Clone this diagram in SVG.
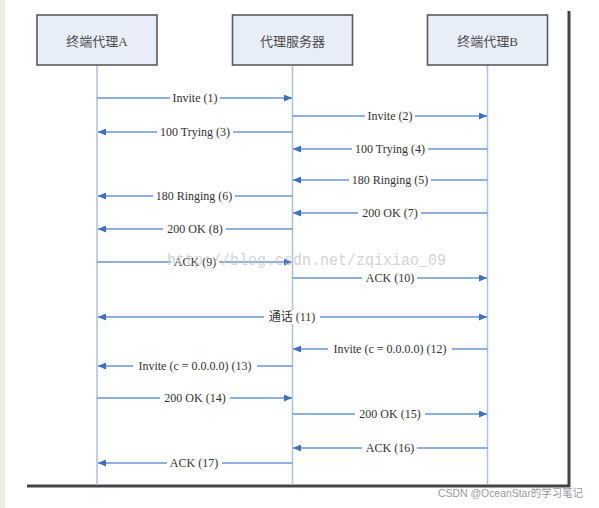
<svg xmlns="http://www.w3.org/2000/svg" width="599" height="508" viewBox="0 0 599 508">
<style>
.box{fill:#e8eef8;stroke:#5a5a5a;stroke-width:1.6}
.bt{font-family:"Liberation Serif","Noto Sans CJK SC",serif;font-size:13px;fill:#4a4a4a;text-anchor:middle}
.life{stroke:#a9c2ea;stroke-width:1.5}
.msg{stroke:#6b96da;stroke-width:1.3;fill:none}
.lb{fill:#ffffff}
.lt{font-family:"Liberation Serif","Noto Sans CJK SC",serif;font-size:12px;fill:#333;text-anchor:middle}
</style>
<defs>
<marker id="ah" viewBox="0 0 8 7" refX="8" refY="3.5" markerWidth="8" markerHeight="7" markerUnits="userSpaceOnUse" orient="auto-start-reverse">
<path d="M0,0 L8,3.5 L0,7 z" fill="#3d6fc6"/>
</marker>
</defs>
<rect x="0" y="0" width="599" height="508" fill="#ffffff"/>
<rect x="0" y="0" width="5" height="508" fill="#edf0dc"/>
<g id="frame">
<line x1="569" y1="11" x2="569" y2="487" stroke="#444" stroke-width="3"/>
<line x1="27" y1="486" x2="570" y2="486" stroke="#444" stroke-width="3"/>
</g>
<g id="lifelines">
<line class="life" x1="97" y1="65" x2="97" y2="485"/>
<line class="life" x1="292.5" y1="65" x2="292.5" y2="485"/>
<line class="life" x1="487.5" y1="65" x2="487.5" y2="485"/>
</g>
<g id="nodeA"><rect class="box" x="37" y="15" width="120" height="50"/><text class="bt" x="97" y="46">终端代理A</text></g>
<g id="nodeS"><rect class="box" x="232.5" y="15" width="120" height="50"/><text class="bt" x="292.5" y="46">代理服务器</text></g>
<g id="nodeB"><rect class="box" x="427.5" y="15" width="120" height="50"/><text class="bt" x="487.5" y="46">终端代理B</text></g>
<g id="connectors">
<line class="msg" x1="97" y1="98" x2="292" y2="98" marker-end="url(#ah)"/>
<line class="msg" x1="292.5" y1="116" x2="487" y2="116" marker-end="url(#ah)"/>
<line class="msg" x1="292.5" y1="132" x2="98" y2="132" marker-end="url(#ah)"/>
<line class="msg" x1="487.5" y1="149" x2="293" y2="149" marker-end="url(#ah)"/>
<line class="msg" x1="487.5" y1="180" x2="293" y2="180" marker-end="url(#ah)"/>
<line class="msg" x1="292.5" y1="196" x2="98" y2="196" marker-end="url(#ah)"/>
<line class="msg" x1="487.5" y1="213" x2="293" y2="213" marker-end="url(#ah)"/>
<line class="msg" x1="292.5" y1="229" x2="98" y2="229" marker-end="url(#ah)"/>
<line class="msg" x1="97" y1="262" x2="292" y2="262" marker-end="url(#ah)"/>
<line class="msg" x1="292.5" y1="278" x2="487" y2="278" marker-end="url(#ah)"/>
<line class="msg" x1="98" y1="317" x2="487" y2="317" marker-start="url(#ah)" marker-end="url(#ah)"/>
<line class="msg" x1="487.5" y1="349" x2="293" y2="349" marker-end="url(#ah)"/>
<line class="msg" x1="292.5" y1="366" x2="98" y2="366" marker-end="url(#ah)"/>
<line class="msg" x1="97" y1="398" x2="292" y2="398" marker-end="url(#ah)"/>
<line class="msg" x1="292.5" y1="414" x2="487" y2="414" marker-end="url(#ah)"/>
<line class="msg" x1="487.5" y1="448" x2="293" y2="448" marker-end="url(#ah)"/>
<line class="msg" x1="292.5" y1="463" x2="98" y2="463" marker-end="url(#ah)"/>
</g>
<g id="labels">
<rect class="lb" x="170" y="91" width="50" height="14"/><text class="lt" x="195" y="102">Invite (1)</text>
<rect class="lb" x="365" y="109" width="50" height="14"/><text class="lt" x="390" y="120">Invite (2)</text>
<rect class="lb" x="157" y="125" width="76" height="14"/><text class="lt" x="195" y="136">100 Trying (3)</text>
<rect class="lb" x="352" y="142" width="76" height="14"/><text class="lt" x="390" y="153">100 Trying (4)</text>
<rect class="lb" x="349" y="173" width="82" height="14"/><text class="lt" x="390" y="184">180 Ringing (5)</text>
<rect class="lb" x="153" y="189" width="82" height="14"/><text class="lt" x="194" y="200">180 Ringing (6)</text>
<rect class="lb" x="358" y="206" width="63" height="14"/><text class="lt" x="390" y="217">200 OK (7)</text>
<rect class="lb" x="163" y="222" width="63" height="14"/><text class="lt" x="195" y="233">200 OK (8)</text>
<rect class="lb" x="171" y="255" width="48" height="14"/><text class="lt" x="195" y="266">ACK (9)</text>
<rect class="lb" x="362" y="271" width="55" height="14"/><text class="lt" x="390" y="282">ACK (10)</text>
<rect class="lb" x="264" y="310" width="56" height="14"/><text class="lt" x="292" y="321">通话 (11)</text>
<rect class="lb" x="328" y="342" width="124" height="14"/><text class="lt" x="390" y="353">Invite (c = 0.0.0.0) (12)</text>
<rect class="lb" x="133" y="359" width="124" height="14"/><text class="lt" x="195" y="370">Invite (c = 0.0.0.0) (13)</text>
<rect class="lb" x="160" y="391" width="70" height="14"/><text class="lt" x="195" y="402">200 OK (14)</text>
<rect class="lb" x="355" y="407" width="70" height="14"/><text class="lt" x="390" y="418">200 OK (15)</text>
<rect class="lb" x="362" y="441" width="55" height="14"/><text class="lt" x="390" y="452">ACK (16)</text>
<rect class="lb" x="167" y="456" width="55" height="14"/><text class="lt" x="194" y="467">ACK (17)</text>
</g>
<text x="167" y="265" font-family="Liberation Mono, monospace" font-size="16" fill="#c8c8c8" fill-opacity="0.8" textLength="279" lengthAdjust="spacingAndGlyphs">http://blog.csdn.net/zqixiao_09</text>
<text x="438" y="497" font-family="Liberation Sans, Noto Sans CJK SC, sans-serif" font-size="11" fill="#9a9a9a" textLength="145" lengthAdjust="spacingAndGlyphs">CSDN @OceanStar的学习笔记</text>
</svg>
